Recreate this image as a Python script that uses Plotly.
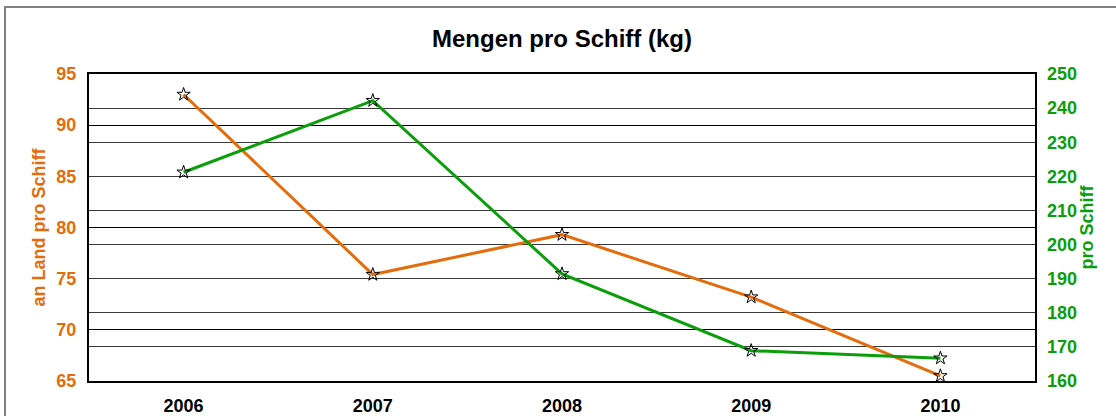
import plotly.graph_objects as go

years = ["2006", "2007", "2008", "2009", "2010"]
an_land = [93.0, 75.4, 79.3, 73.2, 65.5]
pro_schiff = [221.2, 242.2, 191.4, 168.9, 166.7]

ORANGE = "#E46C0A"
GREEN = "#0A9E0A"
FONT = "Liberation Sans, Arial, sans-serif"

fig = go.Figure()
fig.add_trace(go.Scatter(
    x=years, y=an_land, name="an Land pro Schiff", mode="lines+markers",
    line=dict(color=ORANGE, width=3),
    marker=dict(symbol="star-open", size=10, color="black", line=dict(width=1, color="black")),
    yaxis="y"))
fig.add_trace(go.Scatter(
    x=years, y=pro_schiff, name="pro Schiff", mode="lines+markers",
    line=dict(color=GREEN, width=3),
    marker=dict(symbol="star-open", size=10, color="black", line=dict(width=1, color="black")),
    yaxis="y2"))

fig.update_layout(
    width=1116, height=416,
    margin=dict(l=89, r=81, t=74, b=35, autoexpand=False),
    paper_bgcolor="white", plot_bgcolor="white",
    showlegend=False,
    font=dict(family=FONT),
    title=dict(text="<b>Mengen pro Schiff (kg)</b>", x=0.5, xref="paper", xanchor="center",
               y=1 - 39 / 416, yanchor="middle",
               font=dict(size=24, color="black", family=FONT)),
    xaxis=dict(type="category", range=[-0.5, 4.5], showgrid=False, automargin=False,
               showline=True, linecolor="black", linewidth=2, mirror=True,
               ticks="", tickfont=dict(size=18, color="black", family=FONT, weight="bold"),
               ticklabelstandoff=7, zeroline=False),
    yaxis=dict(range=[65, 95], dtick=5, tick0=65, showgrid=True, gridcolor="black", gridwidth=1,
               automargin=False,
               showline=True, linecolor="black", linewidth=2, mirror=True, ticks="",
               tickfont=dict(size=18, color=ORANGE, family=FONT, weight="bold"), ticklabelstandoff=7,
               title=dict(text="<b>an Land pro Schiff</b>", standoff=6,
                          font=dict(size=18, color=ORANGE, family=FONT)),
               zeroline=False),
    yaxis2=dict(range=[160, 250], dtick=10, tick0=160, overlaying="y", side="right",
                automargin=False,
                showgrid=True, gridcolor="#3a3a3a", gridwidth=1, showline=False, ticks="",
                tickfont=dict(size=18, color=GREEN, family=FONT, weight="bold"), ticklabelstandoff=11,
                title=dict(text="<b>pro Schiff</b>", standoff=1,
                           font=dict(size=18, color=GREEN, family=FONT)),
                zeroline=False),
)

# outer chart border (gray), top at ~7px and left at ~5px
fig.add_shape(type="rect", xref="paper", yref="paper",
              x0=(5 - 89) / 946, x1=1.2, y0=-0.5, y1=(381 - 7) / 307,
              line=dict(color="#808080", width=2), layer="below")

fig.write_html("out.html", config={"displayModeBar": False},
               post_script="document.body.style.margin='0';document.body.style.overflow='hidden';")
